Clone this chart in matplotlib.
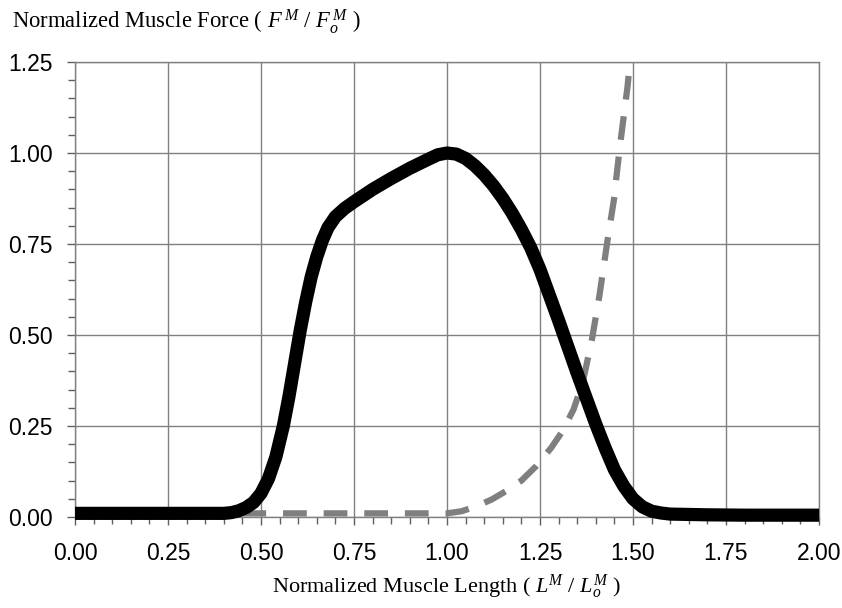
import matplotlib
matplotlib.use("Agg")
import matplotlib.pyplot as plt
from matplotlib.ticker import MultipleLocator, FormatStrFormatter

# active force-length curve
active_len = [0.00, 0.10, 0.20, 0.30, 0.40, 0.42, 0.44, 0.46, 0.48, 0.50,
              0.52, 0.54, 0.56, 0.575, 0.59, 0.605, 0.62, 0.635, 0.65, 0.665,
              0.68, 0.70, 0.725, 0.75, 0.80, 0.85, 0.90, 0.95, 0.975, 1.00,
              1.025, 1.05, 1.075, 1.10, 1.125, 1.15, 1.175, 1.20, 1.225, 1.25,
              1.30, 1.35, 1.40, 1.425, 1.45, 1.475, 1.50, 1.525, 1.55, 1.575,
              1.60, 1.70, 1.80, 1.90, 2.00]
active_force = [0.010, 0.010, 0.010, 0.010, 0.010, 0.012, 0.017, 0.026, 0.040, 0.065,
                0.105, 0.165, 0.250, 0.330, 0.420, 0.510, 0.590, 0.660, 0.715, 0.760,
                0.795, 0.825, 0.848, 0.866, 0.900, 0.930, 0.958, 0.983, 0.995, 1.000,
                0.997, 0.985, 0.965, 0.940, 0.910, 0.875, 0.835, 0.790, 0.740, 0.680,
                0.540, 0.395, 0.255, 0.190, 0.130, 0.085, 0.050, 0.028, 0.016, 0.011,
                0.008, 0.006, 0.005, 0.005, 0.005]

# passive force-length curve
passive_len = [0.45, 0.60, 0.80, 1.00, 1.04, 1.08, 1.12, 1.16, 1.20, 1.24,
               1.28, 1.31, 1.34, 1.365, 1.39, 1.41, 1.43, 1.45, 1.455, 1.465,
               1.475, 1.485, 1.492]
passive_force = [0.010, 0.010, 0.010, 0.010, 0.016, 0.030, 0.048, 0.072, 0.100, 0.140,
                 0.190, 0.235, 0.295, 0.370, 0.490, 0.610, 0.750, 0.880, 0.930, 1.020,
                 1.100, 1.180, 1.250]

plt.rcParams["mathtext.fontset"] = "custom"
plt.rcParams["mathtext.rm"] = "Liberation Serif"
plt.rcParams["mathtext.it"] = "Liberation Serif:italic"

fig = plt.figure(figsize=(8.42, 6.08), dpi=100)
ax = fig.add_axes([75 / 842, 1 - 517 / 608, 744 / 842, 455 / 608])

ax.plot(active_len, active_force, color="black", lw=9.5, solid_capstyle="butt",
        solid_joinstyle="round", clip_on=False, zorder=3)
ax.plot(passive_len, passive_force, color="#7f7f7f", lw=4.5, dashes=(3.8, 2.7),
        dash_capstyle="butt", clip_on=False, zorder=2)

ax.set_xlim(0, 2)
ax.set_ylim(0, 1.25)
ax.xaxis.set_major_locator(MultipleLocator(0.25))
ax.xaxis.set_minor_locator(MultipleLocator(0.05))
ax.yaxis.set_major_locator(MultipleLocator(0.25))
ax.yaxis.set_minor_locator(MultipleLocator(0.05))
ax.xaxis.set_major_formatter(FormatStrFormatter("%.2f"))
ax.yaxis.set_major_formatter(FormatStrFormatter("%.2f"))

ax.grid(True, which="major", color="#808080", lw=1.0)
ax.set_axisbelow(True)
for s in ax.spines.values():
    s.set_color("#808080")
    s.set_linewidth(1.0)

ax.tick_params(which="both", direction="out", color="#606060", width=1.0)
ax.tick_params(which="major", length=6)
ax.tick_params(which="minor", length=5)
ax.tick_params(axis="x", which="major", pad=12)
ax.tick_params(axis="y", which="major", pad=10)
for lab in ax.get_xticklabels() + ax.get_yticklabels():
    lab.set_fontfamily("Liberation Sans")
    lab.set_fontsize(16.5)

fig.text(12 / 842, 1 - 28 / 608, r"Normalized Muscle Force ( $F^{\,M}$ / $F_o^{\,M}$ )",
         family="Liberation Serif", fontsize=16.3, va="baseline", ha="left")
fig.text(447 / 842, 1 - 593 / 608, r"Normalized Muscle Length ( $L^{M}$ / $L_o^{M}$ )",
         family="Liberation Serif", fontsize=16, va="baseline", ha="center")

fig.savefig("out.png", dpi=100)
